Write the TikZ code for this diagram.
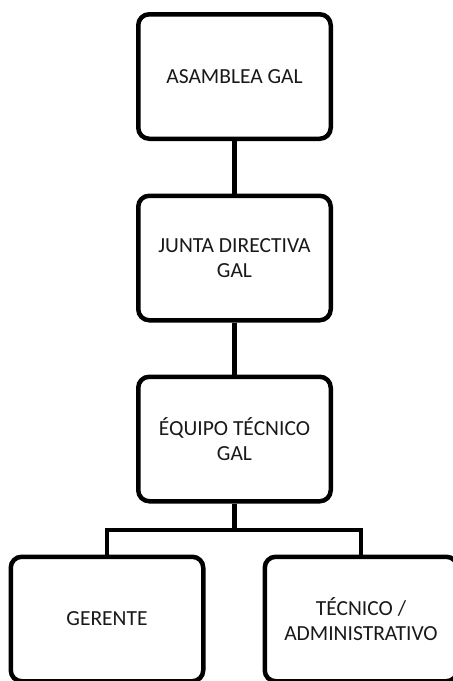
\documentclass[tikz,border=0pt]{standalone}
\usepackage{fontspec}
\setmainfont{Carlito}
\begin{document}
\begin{tikzpicture}[x=1pt,y=-1pt,
  orgbox/.style={draw=black, line width=4.5pt, rounded corners=11pt, fill=white,
    minimum width=192.5pt, minimum height=124.5pt, align=center, inner sep=0pt,
    font=\fontsize{21.5}{24.5}\selectfont, text=black!90},
  link/.style={draw=black, line width=4.8pt}]
\useasboundingbox (0,0) rectangle (453,681);
\clip (0,0) rectangle (453,681);
\node[orgbox] (asamblea) at (234.5,76.5) {ASAMBLEA GAL};
\node[orgbox] (junta) at (234.5,258) {JUNTA DIRECTIVA\\GAL};
\node[orgbox] (equipo) at (234.5,439) {ÉQUIPO TÉCNICO\\GAL};
\node[orgbox] (gerente) at (107,619) {GERENTE};
\node[orgbox] (tecnico) at (361,619) {TÉCNICO /\\ADMINISTRATIVO};
\coordinate (junction) at (234.5,530);
\draw[link] (asamblea) -- (junta);
\draw[link] (junta) -- (equipo);
\draw[link] (equipo) -- (junction);
\draw[link] (gerente.north) |- (junction) -| (tecnico.north);
\end{tikzpicture}
\end{document}
